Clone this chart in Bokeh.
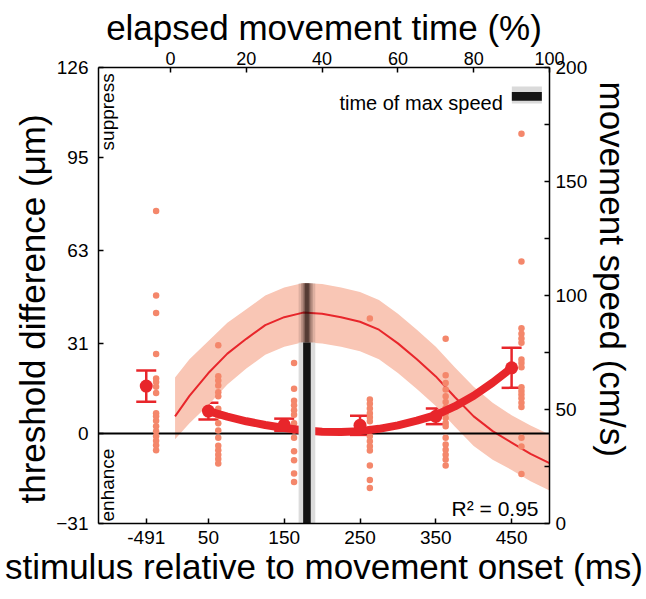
import numpy as np
from bokeh.plotting import figure
from bokeh.models import (Range1d, LinearAxis, FixedTicker, Label, BoxAnnotation,
                          Whisker, TeeHead, ColumnDataSource, Title)
from bokeh.embed import file_html
from bokeh.resources import INLINE

# ---------------- data ----------------
group_labels = ["-491", "50", "150", "250", "350", "450"]
group_pos = [-32, 50, 150, 250, 350, 450]          # plotting position of each stimulus group (ms)
group_mean = [16.3, 7.7, 3.0, 2.8, 5.9, 22.6]       # threshold difference (um)
group_sem = [5.4, 2.9, 2.1, 3.3, 2.7, 6.9]

dots_m491 = [76.6, 47.5, 41.5, 27.4, 18.9, 17.7, 16.1, 13.9, 7.0, 5.9, 4.4, 2.5, 0.8, -1.0, -2.5, -4.1, -5.8]
dots_50 = [30.4, 19.7, 18.2, 16.5, 14.2, 12.8, 8.5, 6.0, 3.5, 1.0, -1.5, -4.2, -5.8, -7.3, -8.8, -10.3]
dots_150 = [24.3, 15.4, 11.3, 9.7, 8.0, 6.4, 3.5, 1.0, -1.5, -6.1, -9.2, -13.8, -16.7]
dots_250 = [39.6, 11.7, 10.2, 8.6, 7.0, 5.6, 4.2, 1.5, -1.0, -2.7, -4.4, -5.9, -11.0, -16.0, -18.8]
dots_350 = [32.6, 20.0, 17.4, 15.1, 12.8, 10.8, 8.8, 7.0, 5.3, 3.6, 2.5, -1.5, -3.8, -5.6, -7.3, -9.0, -11.0]
dots_450 = [103.2, 59.2, 36.2, 34.3, 32.7, 31.2, 25.5, 24.3, 22.8, 15.9, 14.6, 13.4, 12.1, 10.6, 9.1, -1.5, -4.5, -14.0]
group_dots = [dots_m491, dots_50, dots_150, dots_250, dots_350, dots_450]
dot_shift = 13  # ms, dots drawn just right of each mean

fit_ms = [50, 75, 100, 125, 150, 175, 200, 225, 250, 275, 300, 325, 350, 375, 400, 425, 450]
fit_val = [7.7, 5.8, 4.2, 2.9, 1.9, 1.1, 0.6, 0.5, 0.8, 1.6, 2.8, 4.4, 6.3, 9.3, 13.0, 17.5, 22.6]

speed_ms = [6, 25, 50, 75, 100, 125, 150, 175, 200, 225, 250, 275, 300, 325, 350, 375, 400, 425, 450, 475, 500]
speed_mean = [47, 56, 66, 74.5, 81, 87, 90.5, 92.5, 92, 90.5, 88.5, 85, 79, 72, 64.5, 55.5, 47, 40.5, 35.5, 30.5, 26.5]
speed_hi = [64, 72, 80, 88, 94, 100, 103.5, 105.5, 105, 103.5, 101.5, 98, 92, 85, 77.5, 68.5, 60, 53, 47.5, 43, 39]
speed_lo = [37, 44, 52, 61, 68, 74, 77.5, 79.5, 79, 77.5, 75.5, 72, 66, 59, 51.5, 42.5, 34, 28, 23.5, 18.5, 14.5]

max_speed_ms = 180
left_ticks = [-31, 0, 31, 63, 95, 126]
right_ticks = [0, 25, 50, 75, 100, 125, 150, 175, 200]
top_ticks = [0, 20, 40, 60, 80, 100]

FONT = "Liberation Sans"
RED = "#e8262b"
DOT = "#f4876b"
BAND = "#f9c6b5"

p = figure(width=646, height=592, x_range=Range1d(-95, 500), y_range=Range1d(-31, 126),
           output_backend="svg", toolbar_location=None,
           min_border_left=98, min_border_right=97, min_border_top=67, min_border_bottom=69)
p.extra_y_ranges = {"speed": Range1d(0, 200)}
p.extra_x_ranges = {"pct": Range1d(-19, 100)}
p.xgrid.grid_line_color = None
p.ygrid.grid_line_color = None
p.outline_line_color = None
p.background_fill_color = "white"

bottom_axis = p.below[0]
left_axis = p.left[0]
right_axis = LinearAxis(y_range_name="speed")
p.add_layout(right_axis, "right")
top_axis = LinearAxis(x_range_name="pct")
p.add_layout(top_axis, "above")

bottom_axis.axis_label = "stimulus relative to movement onset (ms)"
top_axis.axis_label = "elapsed movement time (%)"

bottom_axis.ticker = FixedTicker(ticks=group_pos)
bottom_axis.major_label_overrides = {pos: lab for pos, lab in zip(group_pos, group_labels)}
left_axis.ticker = FixedTicker(ticks=left_ticks)
right_axis.ticker = FixedTicker(ticks=right_ticks)
right_axis.major_label_overrides = {t: ("" if t % 50 else str(t)) for t in right_ticks}
top_axis.ticker = FixedTicker(ticks=top_ticks)

for ax in (bottom_axis, left_axis, right_axis, top_axis):
    ax.axis_line_color = "black"
    ax.axis_line_width = 1.5
    ax.major_tick_in = 5
    ax.major_tick_out = 0
    ax.major_tick_line_width = 1.5
    ax.minor_tick_line_color = None
    ax.major_label_text_font = FONT
    ax.major_label_text_font_size = "19px"
    ax.major_label_text_color = "black"
    ax.axis_label_text_font = FONT
    ax.axis_label_text_font_size = "35px"
    ax.axis_label_text_font_style = "normal"
    ax.axis_label_text_color = "black"
top_axis.major_label_text_font_size = "18px"
top_axis.major_label_standoff = 3
top_axis.axis_label_standoff = 2
bottom_axis.major_label_standoff = 7
bottom_axis.axis_label_standoff = 0
left_axis.major_label_standoff = 10
right_axis.major_label_standoff = 6

# side titles, placed off-centre like the original
p.add_layout(Title(text="threshold difference (\u03bcm)", align="left", offset=20, standoff=4,
                   text_font=FONT, text_font_size="35px", text_font_style="normal",
                   text_color="black"), "left")
p.add_layout(Title(text="movement speed (cm/s)", align="left", offset=14, standoff=4,
                   text_font=FONT, text_font_size="35px", text_font_style="normal",
                   text_color="black"), "right")

# speed band + mean speed
p.varea(x=speed_ms, y1=speed_lo, y2=speed_hi, fill_color=BAND, fill_alpha=1, y_range_name="speed")
p.line(x=speed_ms, y=speed_mean, line_color=RED, line_width=2, y_range_name="speed")

# zero line
p.hspan(y=[0], line_color="black", line_width=2)

# individual points
dx, dy = [], []
for pos, vals in zip(group_pos, group_dots):
    dx += [pos + dot_shift] * len(vals)
    dy += vals
p.scatter(x=dx, y=dy, size=6.5, fill_color=DOT, line_color=None)

# fitted curve
p.line(x=fit_ms, y=fit_val, line_color=RED, line_width=8, line_cap="round")

# error bars and means
src = ColumnDataSource(dict(x=group_pos, m=group_mean,
                            lo=[m - s for m, s in zip(group_mean, group_sem)],
                            hi=[m + s for m, s in zip(group_mean, group_sem)]))
w = Whisker(base="x", lower="lo", upper="hi", source=src, line_color=RED, line_width=2.5,
            lower_head=TeeHead(size=20, line_color=RED, line_width=2.5),
            upper_head=TeeHead(size=20, line_color=RED, line_width=2.5))
p.add_layout(w)
p.scatter(x="x", y="m", source=src, size=13, fill_color=RED, line_color=None)

# time of max speed bar
lo_at_peak = float(np.interp(max_speed_ms, speed_ms, speed_lo))
hi_at_peak = float(np.interp(max_speed_ms, speed_ms, speed_hi))
p.vbar(x=[max_speed_ms], width=22, bottom=0, top=lo_at_peak, fill_color="#dcdcdc",
       line_color=None, y_range_name="speed")
p.vbar(x=[max_speed_ms], width=10, bottom=0, top=lo_at_peak, fill_color="#141414",
       line_color=None, y_range_name="speed")
for wd, al in ((22, 0.12), (15, 0.22), (9, 0.35), (5, 0.4)):
    p.vbar(x=[max_speed_ms], width=wd, bottom=lo_at_peak, top=hi_at_peak, fill_color="#1a0a05",
           fill_alpha=al, line_color=None, y_range_name="speed")

# legend
p.add_layout(Label(x=438.4, y=184.4, y_range_name="speed", text="time of max speed",
                   text_align="right", text_baseline="alphabetic", text_font=FONT,
                   text_font_size="20px", text_color="black"))
p.add_layout(BoxAnnotation(left=450.3, right=489.9, bottom=184.2, top=191.7, y_range_name="speed",
                           fill_color="#dadada", fill_alpha=1, line_color=None))
p.add_layout(BoxAnnotation(left=450.3, right=489.9, bottom=185.4, top=189.2, y_range_name="speed",
                           fill_color="#141414", fill_alpha=1, line_color=None))

# annotations
p.add_layout(Label(x=-96.5, y=124, text="suppress", angle=np.pi / 2, text_align="right",
                   text_baseline="top", text_font=FONT, text_font_size="19px", text_color="black"))
p.add_layout(Label(x=-96.5, y=-30.3, text="enhance", angle=np.pi / 2, text_align="left",
                   text_baseline="top", text_font=FONT, text_font_size="19px", text_color="black"))
p.add_layout(Label(x=485.5, y=-25.8, text="R\u00b2 = 0.95", text_align="right",
                   text_baseline="alphabetic", text_font=FONT, text_font_size="21px",
                   text_color="black"))

open("out.html", "w").write(file_html(p, INLINE))
